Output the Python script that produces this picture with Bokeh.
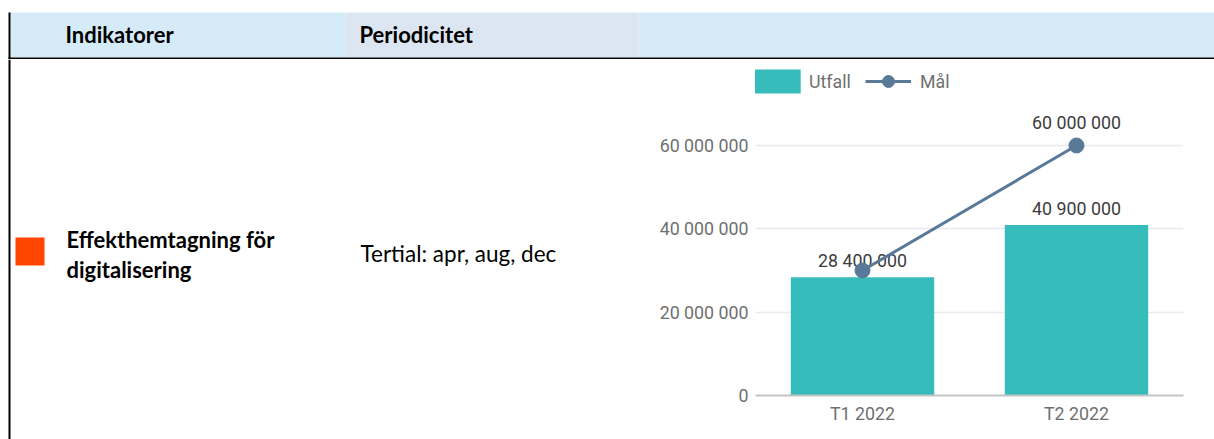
from bokeh.plotting import figure
from bokeh.layouts import column, row
from bokeh.models import Range1d, FactorRange, FixedTicker, Legend, LegendItem, ColumnDataSource, Plot
from bokeh.core.properties import value
from bokeh.embed import file_html
from bokeh.resources import INLINE

# ---------------- data ----------------
categories = ["T1 2022", "T2 2022"]
utfall = [28_400_000, 40_900_000]
mal = [30_000_000, 60_000_000]
mal_label_visible = [False, True]
y_ticks = [0, 20_000_000, 40_000_000, 60_000_000]
y_tick_labels = ["0", "20 000 000", "40 000 000", "60 000 000"]
header_labels = ["Indikatorer", "Periodicitet"]
indicator_lines = ["Effekthemtagning för", "digitalisering"]
periodicity = "Tertial: apr, aug, dec"


def fmt(v):
    return f"{v:,}".replace(",", " ")


TABLE_FONT = "Lato"
CHART_FONT = "Roboto"
TEAL = "#37bcbc"
SLATE = "#587a98"
HAS_FA = "frame_align" in Plot.properties()


def blank(fig):
    fig.outline_line_color = None
    fig.grid.visible = False
    fig.background_fill_color = "white"
    fig.border_fill_color = "white"
    if HAS_FA:
        fig.frame_align = False


# ---------------- header row ----------------
hdr = figure(width=1214, height=59, x_range=Range1d(0, 1214), y_range=Range1d(59, 0),
             x_axis_type=None, y_axis_type=None, toolbar_location=None, title=None,
             output_backend="svg", min_border=0)
blank(hdr)
hdr.quad(left=[10, 345, 638], right=[345, 638, 1214], top=[12, 12, 12], bottom=[57, 57, 57],
         fill_color=["#d6ebf8", "#dce6f2", "#d6ebf8"], line_color=None)
hdr.quad(left=[8], right=[10], top=[12], bottom=[59], fill_color="black", line_color=None)
hdr.quad(left=[8], right=[1214], top=[57], bottom=[59], fill_color="black", line_color=None)
hdr.text(x=[65, 359], y=[34.4, 34.4], text=header_labels, text_font=value(TABLE_FONT),
         text_font_style="bold", text_font_size="22px", text_color="black",
         text_baseline="alphabetic", text_align="left")

# ---------------- left part of body row ----------------
if HAS_FA:
    left = figure(width=638, height=380, x_range=Range1d(0, 638), y_range=Range1d(439, 59),
                  x_axis_type=None, y_axis_type=None, toolbar_location=None, title=None,
                  output_backend="svg", min_border=0)
else:
    left = figure(width=638, height=380, x_range=Range1d(0, 638), y_range=Range1d(395, 62),
                  x_axis_type=None, y_axis_type=None, toolbar_location=None, title=None,
                  output_backend="svg", min_border_left=0, min_border_right=0,
                  min_border_top=3, min_border_bottom=44)
blank(left)
left.quad(left=[8], right=[10], top=[59], bottom=[439], fill_color="black", line_color=None)
left.quad(left=[15], right=[44], top=[237], bottom=[265], fill_color="#ff4500", line_color=None)
left.text(x=[66, 66], y=[238.9, 268.9], text=indicator_lines, text_font=value(TABLE_FONT),
          text_font_style="bold", text_font_size="22px", text_color="black",
          text_baseline="alphabetic", text_align="left")
left.text(x=[360], y=[252.5], text=[periodicity], text_font=value(TABLE_FONT),
          text_font_size="22.5px", text_color="black",
          text_baseline="alphabetic", text_align="left")

# ---------------- chart ----------------
chart = figure(width=576, height=380, x_range=FactorRange(*categories, range_padding=0),
               y_range=Range1d(0, 79.92e6), toolbar_location=None, output_backend="svg",
               title=None,
               min_border_left=117, min_border_right=31, min_border_top=3, min_border_bottom=44)
chart.outline_line_color = None
chart.border_fill_color = "white"
if HAS_FA:
    chart.frame_align = False
chart.xgrid.visible = False
chart.ygrid.grid_line_color = "#e8ecf1"
chart.ygrid.grid_line_width = 1.5
chart.ygrid.ticker = FixedTicker(ticks=y_ticks)

chart.yaxis.ticker = FixedTicker(ticks=y_ticks)
chart.yaxis.major_label_overrides = {t: lab for t, lab in zip(y_ticks, y_tick_labels)}
chart.yaxis.axis_line_color = None
chart.yaxis.major_tick_line_color = None
chart.yaxis.minor_tick_line_color = None
chart.yaxis.major_tick_out = 0
chart.yaxis.major_tick_in = 0
chart.yaxis.major_label_standoff = 7
chart.yaxis.major_label_text_font = CHART_FONT
chart.yaxis.major_label_text_font_size = "17.8px"
chart.yaxis.major_label_text_color = "#6f6f6f"

chart.xaxis.axis_line_color = "#c4c4c4"
chart.xaxis.axis_line_width = 2
chart.xaxis.major_tick_line_color = None
chart.xaxis.minor_tick_line_color = None
chart.xaxis.major_tick_out = 0
chart.xaxis.major_tick_in = 0
chart.xaxis.major_label_standoff = 7
chart.xaxis.major_label_text_font = CHART_FONT
chart.xaxis.major_label_text_font_size = "17.8px"
chart.xaxis.major_label_text_color = "#6f6f6f"

bar_src = ColumnDataSource(dict(x=categories, top=utfall, label=[fmt(v) for v in utfall]))
bars = chart.vbar(x="x", top="top", width=0.67, source=bar_src, fill_color=TEAL, line_color=None)
chart.text(x="x", y="top", text="label", source=bar_src, text_font=value(CHART_FONT),
           text_font_size="17.8px", text_color="#3c3c3c", text_align="center",
           text_baseline="alphabetic", y_offset=-17)

mal_src = ColumnDataSource(dict(x=categories, y=mal))
mline = chart.line(x="x", y="y", source=mal_src, line_color=SLATE, line_width=3)
mdots = chart.scatter(x="x", y="y", source=mal_src, size=15, fill_color=SLATE, line_color=SLATE)

ml_x = [c for c, s in zip(categories, mal_label_visible) if s]
ml_y = [v for v, s in zip(mal, mal_label_visible) if s]
chart.text(x=ml_x, y=ml_y, text=[fmt(v) for v in ml_y], text_font=value(CHART_FONT),
           text_font_size="17.8px", text_color="#3c3c3c", text_align="center",
           text_baseline="alphabetic", y_offset=-23)


def make_legend(items, loc, gw, standoff):
    lg = Legend(items=items, location=loc, orientation="horizontal",
                glyph_width=gw, glyph_height=30, label_standoff=standoff,
                padding=0, margin=0, spacing=0, border_line_color=None,
                background_fill_alpha=0, label_text_font=CHART_FONT,
                label_text_font_size="17.8px", label_text_color="#6f6f6f",
                label_height=20)
    return lg


chart.add_layout(make_legend([LegendItem(label="Utfall", renderers=[bars])], (-7, 299), 58, 3))
chart.add_layout(make_legend([LegendItem(label="Mål", renderers=[mline, mdots])], (110, 299), 46, 9))

layout = column(hdr, row(left, chart, spacing=0), spacing=0)

open("out.html", "w").write(file_html(layout, INLINE))
